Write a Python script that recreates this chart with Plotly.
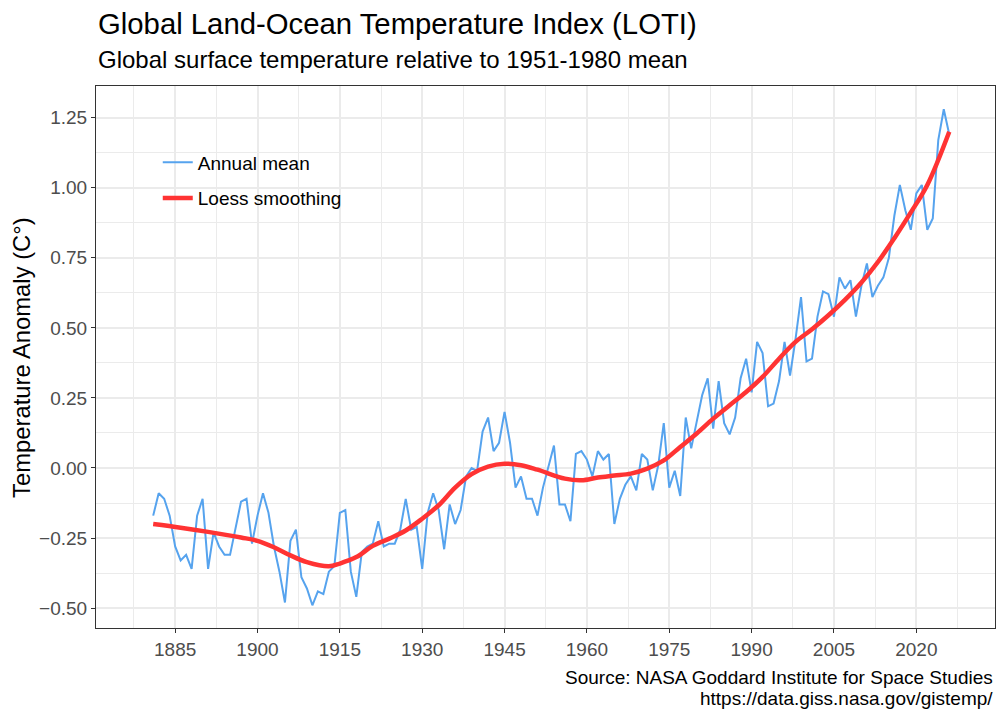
import plotly.graph_objects as go

# GISTEMP LOTI annual means (J-D), 1880-2025
years = list(range(1880, 2026))
anomaly = [
    -0.17, -0.09, -0.11, -0.17, -0.28, -0.33, -0.31, -0.36, -0.17, -0.11,  # 1880s
    -0.36, -0.23, -0.28, -0.31, -0.31, -0.22, -0.12, -0.11, -0.27, -0.17,  # 1890s
    -0.09, -0.16, -0.28, -0.37, -0.48, -0.26, -0.22, -0.39, -0.43, -0.49,  # 1900s
    -0.44, -0.45, -0.37, -0.35, -0.16, -0.15, -0.37, -0.46, -0.30, -0.28,  # 1910s
    -0.27, -0.19, -0.28, -0.27, -0.27, -0.22, -0.11, -0.22, -0.21, -0.36,  # 1920s
    -0.16, -0.09, -0.15, -0.29, -0.13, -0.20, -0.15, -0.03, 0.00, -0.01,   # 1930s
    0.13, 0.18, 0.06, 0.09, 0.20, 0.09, -0.07, -0.03, -0.11, -0.11,        # 1940s
    -0.17, -0.07, 0.01, 0.08, -0.13, -0.13, -0.19, 0.05, 0.06, 0.03,       # 1950s
    -0.03, 0.06, 0.03, 0.05, -0.20, -0.11, -0.06, -0.03, -0.08, 0.05,      # 1960s
    0.03, -0.08, 0.01, 0.16, -0.07, -0.01, -0.10, 0.18, 0.07, 0.16,        # 1970s
    0.26, 0.32, 0.14, 0.31, 0.16, 0.12, 0.18, 0.32, 0.39, 0.27,            # 1980s
    0.45, 0.41, 0.22, 0.23, 0.31, 0.45, 0.33, 0.46, 0.61, 0.38,            # 1990s
    0.39, 0.54, 0.63, 0.62, 0.54, 0.68, 0.64, 0.67, 0.54, 0.65,            # 2000s
    0.73, 0.61, 0.65, 0.68, 0.75, 0.90, 1.01, 0.92, 0.85, 0.98,            # 2010s
    1.01, 0.85, 0.89, 1.17, 1.28, 1.19,                                    # 2020s
]

# loess curve
loess_years = [1880, 1885, 1890, 1896, 1899, 1902, 1905, 1908, 1912, 1914,
               1917, 1920, 1923, 1926, 1929, 1932, 1935, 1938, 1941, 1944,
               1947, 1950, 1955, 1958, 1961, 1964, 1967, 1970, 1973, 1976,
               1979, 1982, 1985, 1988, 1991, 1994, 1997, 2000, 2003, 2006,
               2009, 2012, 2015, 2018, 2021, 2025]
loess_values = [-0.200, -0.213, -0.228, -0.248, -0.260, -0.283, -0.312, -0.336, -0.351, -0.341,
                -0.318, -0.278, -0.252, -0.223, -0.181, -0.133, -0.070, -0.022, 0.005, 0.015,
                0.010, -0.006, -0.038, -0.044, -0.034, -0.027, -0.020, -0.002, 0.027, 0.075,
                0.123, 0.176, 0.224, 0.271, 0.325, 0.390, 0.450, 0.495, 0.545, 0.600,
                0.662, 0.735, 0.820, 0.912, 1.010, 1.200]

# years are stored as end-of-year dates
x_annual = [f"{y}-12-31" for y in years]
x_loess = [f"{y}-12-31" for y in loess_years]

FONT = "Liberation Sans, Arial, sans-serif"
BLUE = "#56A3EE"
RED = "#FF3333"

fig = go.Figure()

fig.add_trace(go.Scatter(
    x=x_annual, y=anomaly, mode="lines", name="Annual mean",
    line=dict(color=BLUE, width=2), legendgroup="a",
))
fig.add_trace(go.Scatter(
    x=x_loess, y=loess_values, mode="lines", name="Loess smoothing",
    line=dict(color=RED, width=4.5, shape="spline", smoothing=1), legendgroup="b",
))

# white legend key boxes (ggplot legend.key)
fig.add_shape(type="rect", xref="x domain", yref="y domain",
              x0=0.0675, x1=0.1065, y0=0.762, y1=0.891,
              fillcolor="white", line_width=0, layer="below")

fig.update_layout(
    width=1008, height=720,
    margin=dict(l=96, r=13, t=86, b=92),
    paper_bgcolor="white", plot_bgcolor="white",
    font=dict(family=FONT, color="black"),
    showlegend=True,
    legend=dict(x=0.0687, y=0.894, xanchor="left", yanchor="top",
                bgcolor="rgba(0,0,0,0)", font=dict(size=19, color="black"),
                tracegroupgap=8),
)

fig.update_xaxes(
    type="date", range=["1870-08-01", "2034-05-01"],
    tick0="1885-01-01", dtick="M180", tickformat="%Y",
    ticks="outside", ticklen=4, tickwidth=1.1, tickcolor="#333333",
    tickfont=dict(size=19, color="#4D4D4D"),
    showgrid=True, gridcolor="#EBEBEB", gridwidth=1.6,
    minor=dict(tick0="1877-07-02", dtick="M180", showgrid=True,
               gridcolor="#EBEBEB", gridwidth=0.8),
    showline=True, mirror=True, linecolor="#333333", linewidth=1.1,
    zeroline=False,
)
fig.update_yaxes(
    range=[-0.571, 1.363], dtick=0.25, tick0=0, tickformat=".2f",
    ticks="outside", ticklen=4, tickwidth=1.1, tickcolor="#333333",
    tickfont=dict(size=19, color="#4D4D4D"),
    showgrid=True, gridcolor="#EBEBEB", gridwidth=1.6,
    minor=dict(tick0=0.125, dtick=0.25, showgrid=True,
               gridcolor="#EBEBEB", gridwidth=0.8),
    showline=True, mirror=True, linecolor="#333333", linewidth=1.1,
    zeroline=False,
)

annotations = [
    dict(text="Global Land-Ocean Temperature Index (LOTI)", x=0, y=1.1145,
         xanchor="left", yanchor="middle", font=dict(size=29.3)),
    dict(text="Global surface temperature relative to 1951-1980 mean", x=0, y=1.049,
         xanchor="left", yanchor="middle", font=dict(size=24)),
    dict(text="Temperature Anomaly (C°)", x=-0.0835, y=0.5, textangle=-90,
         xanchor="center", yanchor="middle", font=dict(size=23.8)),
    dict(text="Source: NASA Goddard Institute for Space Studies", x=1.0, y=-0.0915,
         xanchor="right", yanchor="middle", font=dict(size=19)),
    dict(text="https://data.giss.nasa.gov/gistemp/", x=1.0, y=-0.1305,
         xanchor="right", yanchor="middle", font=dict(size=19)),
]
for a in annotations:
    fig.add_annotation(xref="paper", yref="paper", showarrow=False, **a)

# drop the default page margin so the figure sits at the window corner
fig.write_html("out.html", config={"displayModeBar": False},
               post_script="document.body.style.margin='0';")
